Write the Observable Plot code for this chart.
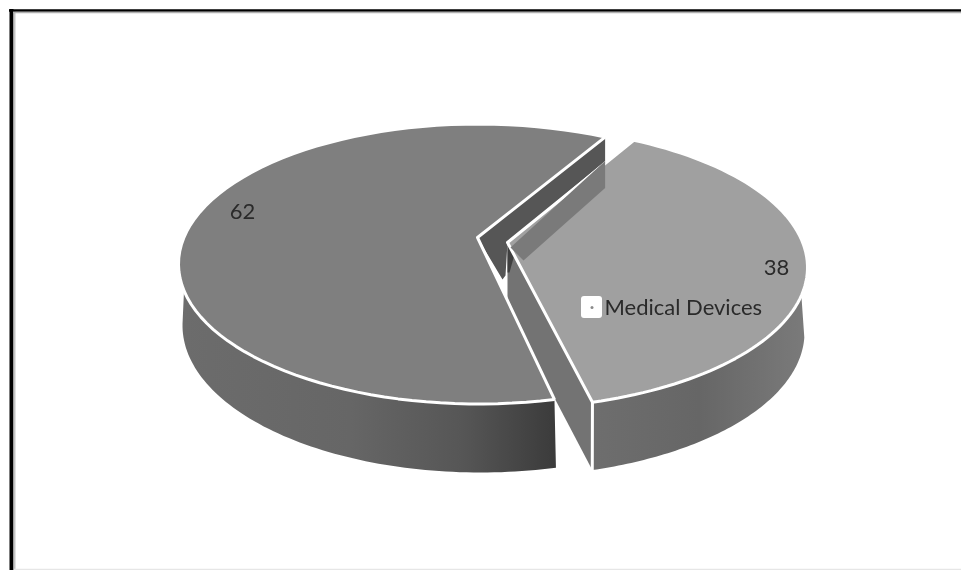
<!DOCTYPE html>
<html>
<head>
<meta charset="utf-8">
<script src="https://cdn.jsdelivr.net/npm/d3@7"></script>
<script src="https://cdn.jsdelivr.net/npm/@observablehq/plot@0.6"></script>
<style>
  html, body { margin: 0; padding: 0; background: #fff; }
  #chart svg { display: block; filter: blur(0.6px); }
</style>
</head>
<body>
<div id="chart"></div>
<script>
// Data
const categories = ["Other", "Medical Devices"];
const values = [62, 38];
const legendLabels = ["Medical Devices"];

// Layout of the tilted pie (not data)
const W = 961, H = 570;
const total = d3.sum(values);
const sweep = values.map(v => v / total * 360);
const L = {
  top: {cx: 478, cy: 263.5, rx: 300, ry: 140},
  bot: {cx: 480, cy: 325, rx: 298, ry: 147},
  apex: [477, 237], apexDepth: 42,
  mid: 275.15, squeeze: 0.984, wallTopEnd: 259, wallBotEnd: 272
};
const R = {
  top: {cx: 502, cy: 267, rx: 305, ry: 141},
  bot: {cx: 503, cy: 332, rx: 301, ry: 144},
  apex: [507, 242], apexDepth: 66,
  start: 25.5, squeeze: 1.004, wallTopEnd: 101.5, wallBotEnd: 92
};
const rad = a => a * Math.PI / 180;
const rim = (e, a) => ({x: e.cx + e.rx * Math.sin(rad(a)), y: e.cy - e.ry * Math.cos(rad(a))});
const arc = (e, a0, a1) => d3.range(0, 81).map(i => rim(e, a0 + (a1 - a0) * i / 80));
const P = ([x, y], dx = 0, dy = 0) => ({x: x + dx, y: y + dy});

const lA0 = L.mid - sweep[0] * L.squeeze / 2, lA1 = L.mid + sweep[0] * L.squeeze / 2;
const rA0 = R.start, rA1 = R.start + sweep[1] * R.squeeze;

const shape = (pts, fill, stroke = "none", sw = 0) =>
  Plot.line(pts, {x: "x", y: "y", fill, stroke, strokeWidth: sw, curve: "linear", strokeLinejoin: "miter"});

const defs = () => {
  const d = d3.create("svg:defs");
  const grad = (id, stops) => {
    const g = d.append("linearGradient").attr("id", id).attr("x1", 0).attr("x2", 1).attr("y1", 0).attr("y2", 0);
    stops.forEach(([o, c]) => g.append("stop").attr("offset", o).attr("stop-color", c));
  };
  grad("leftWall", [[0, "#6c6c6c"], [0.45, "#666666"], [0.75, "#565656"], [1, "#3b3b3b"]]);
  grad("rightWall", [[0, "#6e6e6e"], [0.5, "#666666"], [1, "#7a7a7a"]]);
  return d.node();
};

const lRim = rim(L.top, lA1);
const rFront = rim(R.top, rA1);
const rFrontB = rim(R.bot, rA1);

const marks = [
  defs,
  // frame
  Plot.ruleX([11], {y1: 9, y2: H, stroke: "#000", strokeWidth: 4}),
  Plot.ruleX([14], {y1: 11, y2: H, stroke: "#c4c4c4", strokeWidth: 2}),
  Plot.ruleY([10], {x1: 9, x2: W, stroke: "#000", strokeWidth: 2.5}),
  Plot.ruleY([12], {x1: 13, x2: W, stroke: "#b0b0b0", strokeWidth: 1.5}),
  Plot.ruleY([569], {x1: 14, x2: W, stroke: "#e6e6e6", strokeWidth: 1.5}),

  // inner (cut) wall of the large slice, seen through the gap
  shape([P(L.apex), lRim, {x: lRim.x, y: lRim.y + 24}, P(R.apex, 0, 0), P(R.apex, -2, 33), P(L.apex, 25, L.apexDepth)], "#565656"),

  // exploded slice: outer wall, cut face, top
  shape([...arc(R.top, rA1, R.wallTopEnd), ...arc(R.bot, R.wallBotEnd, rA1)], "url(#rightWall)"),
  shape([P(R.apex), rFront, rFrontB, P(R.apex, 0, R.apexDepth)], "#737373"),
  shape([P(R.apex, 0, 3), P(R.apex, 7, 12), P(R.apex, 2, 30), P(R.apex, 0, 30)], "#3f3f3f"),
  shape([P(R.apex), ...arc(R.top, rA0, rA1), P(R.apex)], "#a0a0a0", "#fff", 3),
  shape([rFront, rFrontB], "none", "#fff", 3),
  shape([P(R.apex, 3, 5), {x: lRim.x, y: lRim.y + 24}, {x: lRim.x, y: lRim.y + 51}, P(R.apex, 16, 18)], "#7a7a7a"),

  // large slice: outer wall and top
  shape([...arc(L.top, lA0, L.wallTopEnd), ...arc(L.bot, L.wallBotEnd, lA0)], "url(#leftWall)"),
  shape([P(L.apex), ...arc(L.top, lA0, lA1), P(L.apex)], "#7f7f7f", "#fff", 3),

  // value labels
  Plot.text([values[0]], {x: () => 242, y: () => 211, text: d => `${d}`, fontSize: 22, fontFamily: "Lato", fill: "#2a2a2a"}),
  Plot.text([values[1]], {x: () => 776, y: () => 267, text: d => `${d}`, fontSize: 22, fontFamily: "Lato", fill: "#2a2a2a"}),

  // legend
  Plot.rect(legendLabels, {x1: () => 581, x2: () => 602, y1: () => 296, y2: () => 318, fill: "#fff", rx: 3}),
  Plot.dot(legendLabels, {x: () => 591.5, y: () => 307, r: 1.5, fill: "#8a8a8a", stroke: "none"}),
  Plot.text(legendLabels, {x: () => 604, y: () => 307, text: d => d, textAnchor: "start", fontSize: 22, fontFamily: "Lato", fill: "#2a2a2a"})
];

document.getElementById("chart").append(Plot.plot({
  width: W, height: H, margin: 0,
  x: {domain: [0, W], range: [0, W], axis: null},
  y: {domain: [0, H], range: [0, H], axis: null},
  style: {background: "#fff"},
  marks
}));
</script>
</body>
</html>
